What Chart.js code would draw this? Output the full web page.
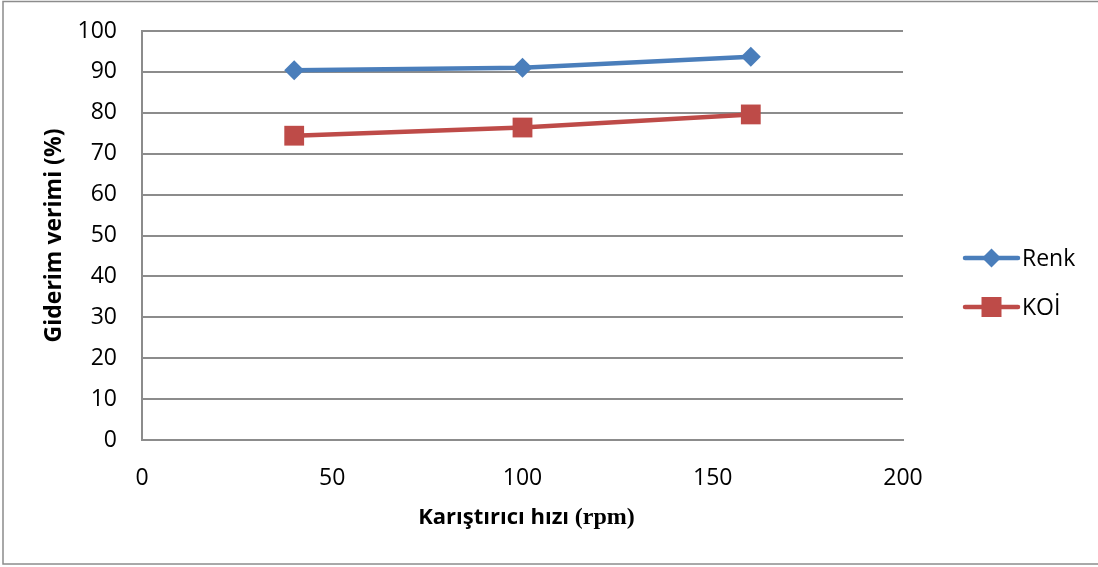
<!DOCTYPE html>
<html>
<head>
<meta charset="utf-8">
<script src="https://cdn.jsdelivr.net/npm/chart.js@4/dist/chart.umd.min.js"></script>
<style>
  html, body { margin: 0; padding: 0; background: #fff; }
  #wrap { width: 1098px; height: 567px; position: relative; }
</style>
</head>
<body>
<div id="wrap"><canvas id="c" width="1098" height="567"></canvas></div>
<script>
// Stirring speed (rpm) and removal efficiency (%)
const speeds = [40, 100, 160];
const renk = [90.4, 91.0, 93.7];
const koi = [74.4, 76.4, 79.6];
const seriesNames = ['Renk', 'KOİ'];
const xTicks = [0, 50, 100, 150, 200];
const yTicks = [0, 10, 20, 30, 40, 50, 60, 70, 80, 90, 100];
const yTitle = 'Giderim verimi (%)';
const xTitleMain = 'Karıştırıcı hızı ';
const xTitleUnit = '(rpm)';

const BLUE = '#4A7EBB';
const RED = '#BE4B48';
const GRID = '#8C8C8C';
const SANS = '"Open Sans", "DejaVu Sans", sans-serif';
const SERIF = '"Liberation Serif", "DejaVu Serif", serif';

const toPoints = (ys) => speeds.map((x, i) => ({ x, y: ys[i] }));

// Frame, axis titles and a line+marker legend drawn on top of the chart
const decor = {
  id: 'decor',
  afterDraw(chart) {
    const ctx = chart.ctx;
    const area = chart.chartArea;
    ctx.save();

    // outer frame
    ctx.strokeStyle = '#8C8C8C';
    ctx.lineWidth = 1.5;
    ctx.strokeRect(3, 1.5, 1100, 562.5);

    // y axis title
    ctx.fillStyle = '#000';
    ctx.font = 'bold 23px ' + SANS;
    ctx.textAlign = 'center';
    ctx.textBaseline = 'middle';
    ctx.save();
    ctx.translate(54, (area.top + area.bottom) / 2);
    ctx.rotate(-Math.PI / 2);
    ctx.fillText(yTitle, 0, 0);
    ctx.restore();

    // x axis title: sans part + serif unit
    ctx.textAlign = 'left';
    ctx.font = 'bold 22px ' + SANS;
    const w1 = ctx.measureText(xTitleMain).width;
    ctx.font = 'bold 24px ' + SERIF;
    const w2 = ctx.measureText(xTitleUnit).width;
    const cx = (area.left + area.right) / 2 + 4;
    const start = cx - (w1 + w2) / 2;
    ctx.font = 'bold 22px ' + SANS;
    ctx.fillText(xTitleMain, start, 518);
    ctx.font = 'bold 24px ' + SERIF;
    ctx.fillText(xTitleUnit, start + w1, 518);

    // legend
    const items = [
      { name: seriesNames[0], color: BLUE, style: 'diamond', y: 258 },
      { name: seriesNames[1], color: RED, style: 'square', y: 307 }
    ];
    items.forEach((it) => {
      ctx.strokeStyle = it.color;
      ctx.lineWidth = 4.5;
      ctx.lineCap = 'round';
      ctx.beginPath();
      ctx.moveTo(965, it.y);
      ctx.lineTo(1018, it.y);
      ctx.stroke();
      ctx.fillStyle = it.color;
      ctx.beginPath();
      if (it.style === 'diamond') {
        const r = 9.5;
        ctx.moveTo(991.5, it.y - r);
        ctx.lineTo(991.5 + r, it.y);
        ctx.lineTo(991.5, it.y + r);
        ctx.lineTo(991.5 - r, it.y);
        ctx.closePath();
      } else {
        ctx.rect(981.5, it.y - 10, 20, 20);
      }
      ctx.fill();
      ctx.fillStyle = '#000';
      ctx.font = '23px ' + SANS;
      ctx.textBaseline = 'middle';
      ctx.fillText(it.name, 1022, it.y + 1);
    });
    ctx.restore();
  }
};

new Chart(document.getElementById('c'), {
  type: 'line',
  data: {
    datasets: [
      {
        label: seriesNames[0],
        data: toPoints(renk),
        borderColor: BLUE,
        backgroundColor: BLUE,
        borderWidth: 4.5,
        pointStyle: 'rectRot',
        pointRadius: 10,
        pointHoverRadius: 10,
        pointBorderWidth: 0,
        tension: 0
      },
      {
        label: seriesNames[1],
        data: toPoints(koi),
        borderColor: RED,
        backgroundColor: RED,
        borderWidth: 4.5,
        pointStyle: 'rect',
        pointRadius: 14,
        pointHoverRadius: 14,
        pointBorderWidth: 0,
        tension: 0
      }
    ]
  },
  options: {
    responsive: false,
    animation: false,
    events: [],
    layout: { padding: { top: 31, right: 195, left: 0, bottom: 0 } },
    plugins: {
      legend: { display: false },
      tooltip: { enabled: false }
    },
    scales: {
      x: {
        type: 'linear',
        min: 0,
        max: 200,
        afterBuildTicks: (s) => { s.ticks = xTicks.map((v) => ({ value: v })); },
        afterFit: (s) => { s.height = 567 - 440; s.paddingLeft = 0; s.paddingRight = 0; },
        grid: { display: false, drawTicks: false },
        border: { display: true, color: GRID, width: 2 },
        ticks: { color: '#000', font: { family: SANS, size: 23 }, padding: 25, maxRotation: 0 }
      },
      y: {
        type: 'linear',
        min: 0,
        max: 100,
        afterBuildTicks: (s) => { s.ticks = yTicks.map((v) => ({ value: v })); },
        afterFit: (s) => { s.width = 142; s.paddingTop = 0; s.paddingBottom = 0; },
        grid: { color: GRID, lineWidth: 2, drawTicks: false },
        border: { display: true, color: GRID, width: 2 },
        ticks: { color: '#000', font: { family: SANS, size: 23 }, padding: 25 }
      }
    }
  },
  plugins: [decor]
});
</script>
</body>
</html>
